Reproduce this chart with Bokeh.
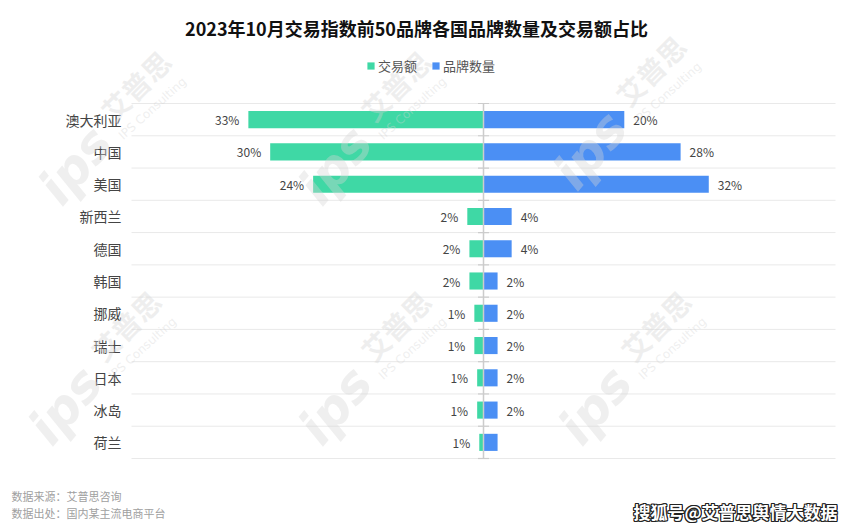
from bokeh.plotting import figure
from bokeh.models import Range1d, Label, Legend, LegendItem, ColumnDataSource
from bokeh.core.properties import value
from bokeh.embed import file_html
from bokeh.resources import INLINE

# ---- data ----
categories = ["澳大利亚", "中国", "美国", "新西兰", "德国", "韩国", "挪威", "瑞士", "日本", "冰岛", "荷兰"]
trade_share = [33.4, 30.3, 24.2, 2.3, 2.0, 2.0, 1.3, 1.3, 0.9, 0.9, 0.6]   # 交易额占比 (%)
brand_share = [20, 28, 32, 4, 4, 2, 2, 2, 2, 2, 2]                          # 品牌数量占比 (%)
brand_labels = ["20%", "28%", "32%", "4%", "4%", "2%", "2%", "2%", "2%", "2%", ""]
series_names = ["交易额", "品牌数量"]
title_text = "2023年10月交易指数前50品牌各国品牌数量及交易额占比"
source_notes = ["数据来源：艾普思咨询", "数据出处：国内某主流电商平台"]
credit_text = "搜狐号@艾普思舆情大数据"
x_limit = 50  # axis extent (%) on each side

FONT = "Noto Sans CJK SC"
GREEN = "#3fd8a5"
BLUE = "#4b8ff4"
W, H = 859, 531

# layout of the plotting area inside the canvas (pixels)
PLOT_L, PLOT_R, PLOT_T, PLOT_B = 131, 835, 103, 458

n = len(categories)
ys = list(range(n))
px_per_x = (PLOT_R - PLOT_L) / (2 * x_limit)
px_per_row = (PLOT_B - PLOT_T) / n
x0_px = (PLOT_L + PLOT_R) / 2
x_range = Range1d(-x0_px / px_per_x, (W - x0_px) / px_per_x)
y_range = Range1d(n - 0.5 + (H - PLOT_B) / px_per_row, -0.5 - PLOT_T / px_per_row)

src = ColumnDataSource(dict(
    y=ys,
    neg=[-v for v in trade_share],
    brand=brand_share,
    tlab=[f"{round(v)}%" for v in trade_share],
    blab=brand_labels,
    cat=categories,
    left=[-x_limit] * n,
))

p = figure(width=W, height=H, output_backend="svg", toolbar_location=None,
           x_range=x_range, y_range=y_range,
           min_border=0, min_border_left=0, min_border_right=0, min_border_top=0, min_border_bottom=0,
           outline_line_color=None, background_fill_color="white", border_fill_color="white")
p.axis.visible = False
p.grid.visible = False

# grid lines at category boundaries
bounds = [i - 0.5 for i in range(n + 1)]
p.segment(x0=[-x_limit] * len(bounds), x1=[x_limit] * len(bounds), y0=bounds, y1=bounds,
          line_color="#e9e9e9", line_width=1)

r_trade = p.hbar(y="y", left="neg", right=0, height=0.53, source=src,
                 fill_color=GREEN, line_color=None)
r_brand = p.hbar(y="y", left=0, right="brand", height=0.53, source=src,
                 fill_color=BLUE, line_color=None)

# central axis with ticks
p.segment(x0=[0], x1=[0], y0=[bounds[0]], y1=[bounds[-1]], line_color="#cccccc", line_width=1.5)
p.scatter(x=[0] * len(bounds), y=bounds, marker="dash", size=11, line_color="#cccccc", line_width=1.2)

# category labels
p.text(x="left", y="y", text="cat", source=src, x_offset=-10, text_align="right",
       text_baseline="middle", text_font=value(FONT), text_font_size="14px", text_color="#444444")

# value labels
p.text(x="neg", y="y", text="tlab", source=src, x_offset=-9, text_align="right",
       text_baseline="middle", text_font=value(FONT), text_font_size="12px", text_color="#444444")
p.text(x="brand", y="y", text="blab", source=src, x_offset=9, text_align="left",
       text_baseline="middle", text_font=value(FONT), text_font_size="12px", text_color="#444444")

legend = Legend(items=[LegendItem(label=series_names[0], renderers=[r_trade]),
                       LegendItem(label=series_names[1], renderers=[r_brand])],
                orientation="horizontal", location=(366, H - 75), padding=0, margin=0,
                border_line_color=None, background_fill_alpha=0,
                glyph_width=9, glyph_height=9, label_standoff=3, spacing=14, label_height=20,
                label_text_font=FONT, label_text_font_size="13px", label_text_color="#555555")
p.add_layout(legend, "center")

# watermarks
wm_color = "#d4d4d4"
wm_alpha = 0.38
for cx, cy in [(75, 165), (335, 165), (590, 150), (65, 405), (335, 405), (595, 405)]:
    p.add_layout(Label(x=cx, y=H - cy, x_units="screen", y_units="screen", text="ips",
                       text_font="DejaVu Sans", text_font_style="bold italic",
                       text_font_size="50px", angle=50, angle_units="deg",
                       text_align="center", text_baseline="middle",
                       text_color=wm_color, text_alpha=wm_alpha))
    p.add_layout(Label(x=cx + 60, y=H - cy + 80, x_units="screen", y_units="screen", text="艾普思",
                       text_font=FONT, text_font_style="bold",
                       text_font_size="28px", angle=45, angle_units="deg",
                       text_align="center", text_baseline="middle",
                       text_color=wm_color, text_alpha=wm_alpha))
    p.add_layout(Label(x=cx + 77, y=H - cy + 57, x_units="screen", y_units="screen", text="IPS Consulting",
                       text_font="DejaVu Sans",
                       text_font_size="12px", angle=42, angle_units="deg",
                       text_align="center", text_baseline="middle",
                       text_color=wm_color, text_alpha=wm_alpha))

# title
p.add_layout(Label(x=416, y=H - 27, x_units="screen", y_units="screen", text=title_text,
                   text_align="center", text_baseline="middle", text_font=FONT,
                   text_font_style="bold", text_font_size="18px", text_color="#111111"))

# footer notes
for i, t in enumerate(source_notes):
    p.add_layout(Label(x=11, y=H - 495 - 17 * i, x_units="screen", y_units="screen", text=t,
                       text_align="left", text_baseline="middle", text_font=FONT,
                       text_font_size="11px", text_color="#a0a0a0"))

# credit with dark outline
for dx, dy in [(-1, 0), (1, 0), (0, -1), (0, 1), (-1, -1), (1, 1), (-1, 1), (1, -1)]:
    p.add_layout(Label(x=633 + dx, y=H - 511 + dy, x_units="screen", y_units="screen", text=credit_text,
                       text_align="left", text_baseline="middle", text_font=FONT,
                       text_font_style="bold", text_font_size="17px", text_color="#222222"))
p.add_layout(Label(x=633, y=H - 511, x_units="screen", y_units="screen", text=credit_text,
                   text_align="left", text_baseline="middle", text_font=FONT,
                   text_font_style="bold", text_font_size="17px", text_color="white"))

open("out.html", "w").write(file_html(p, INLINE))
